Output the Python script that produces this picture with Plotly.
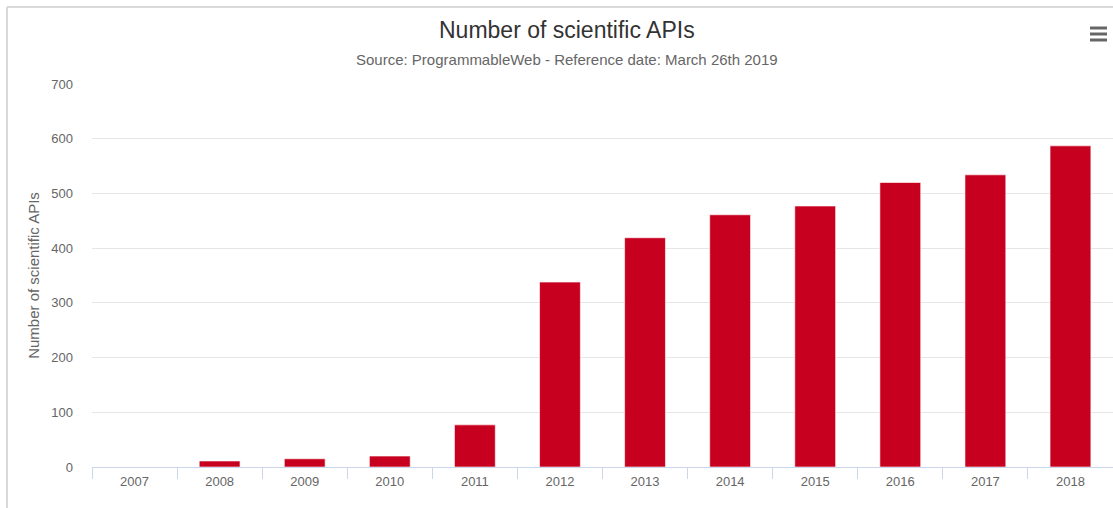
import plotly.graph_objects as go

years = ["2007", "2008", "2009", "2010", "2011", "2012", "2013", "2014", "2015", "2016", "2017", "2018"]
api_counts = [0, 11, 15, 20, 77, 338, 419, 461, 477, 520, 534, 587]
y_ticks = [0, 100, 200, 300, 400, 500, 600, 700]

W, H = 1113, 508
L, R, T, B = 92, 0, 84, 41
pw = W - L - R
ph = H - T - B

def px(x):
    return (x - L) / pw

def py(y):
    return (H - B - y) / ph

fig = go.Figure(go.Bar(
    x=years, y=api_counts,
    marker=dict(color="#C8001F", line=dict(color="rgba(255,255,255,0.6)", width=1)),
    width=0.48,
))

font = "Liberation Sans, Arial, Helvetica, sans-serif"

fig.update_layout(
    width=W, height=H,
    margin=dict(l=L, r=R, t=T, b=B),
    paper_bgcolor="white", plot_bgcolor="white",
    showlegend=False,
    font=dict(family=font, color="#666666", size=13),
    annotations=[
        dict(
            text="Number of scientific APIs",
            xref="paper", yref="paper", x=px(567), y=py(30),
            xanchor="center", yanchor="middle", showarrow=False,
            font=dict(size=23, color="#333333", family=font),
        ),
        dict(
            text="Source: ProgrammableWeb - Reference date: March 26th 2019",
            xref="paper", yref="paper", x=px(567), y=py(59),
            xanchor="center", yanchor="middle", showarrow=False,
            font=dict(size=15, color="#666666", family=font),
        ),
    ],
    xaxis=dict(
        type="category",
        showgrid=False,
        showline=True, linecolor="#ccd6eb", linewidth=1,
        ticks="outside", tickson="boundaries", ticklen=11, tickcolor="#ccd6eb",
        tickfont=dict(size=13, color="#666666"),
        ticklabelstandoff=2,
        range=[-0.5, 11.5],
    ),
    yaxis=dict(
        range=[0, 700], tickvals=y_ticks,
        showgrid=True, gridcolor="#e6e6e6", gridwidth=1,
        zeroline=False, showline=False, ticks="",
        tickfont=dict(size=13, color="#666666"),
        ticklabelstandoff=18,
        title=dict(text="Number of scientific APIs", font=dict(size=15, color="#666666"), standoff=8),
    ),
    shapes=[
        dict(type="line", xref="paper", yref="paper", x0=px(7), x1=px(1200), y0=py(7), y1=py(7),
             line=dict(color="#d9d9d9", width=2)),
        dict(type="line", xref="paper", yref="paper", x0=px(7), x1=px(7), y0=py(7), y1=py(520),
             line=dict(color="#d9d9d9", width=2)),
        dict(type="line", xref="paper", yref="paper", x0=px(1090), x1=px(1107), y0=py(28), y1=py(28),
             line=dict(color="#666666", width=3)),
        dict(type="line", xref="paper", yref="paper", x0=px(1090), x1=px(1107), y0=py(34), y1=py(34),
             line=dict(color="#666666", width=3)),
        dict(type="line", xref="paper", yref="paper", x0=px(1090), x1=px(1107), y0=py(40), y1=py(40),
             line=dict(color="#666666", width=3)),
    ],
)

fig.write_html("out.html", config={"displayModeBar": False})
